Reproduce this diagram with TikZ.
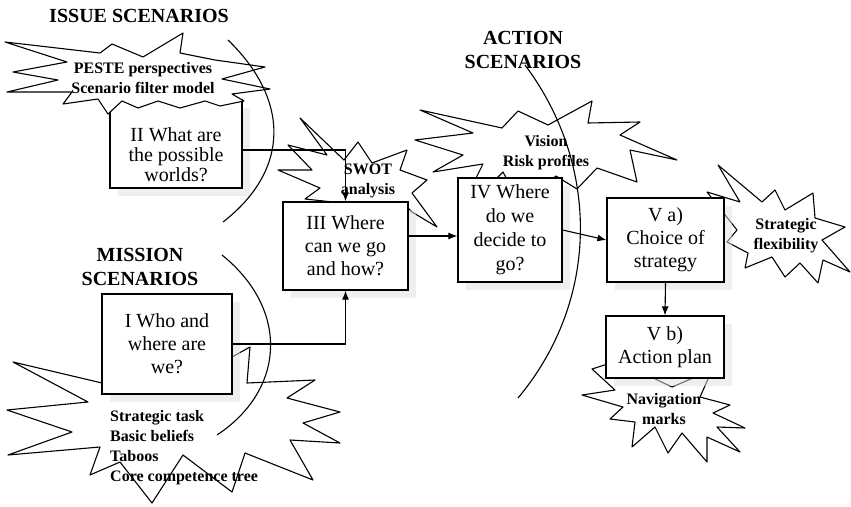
\documentclass[tikz,border=0pt]{standalone}
\usepackage{fontspec}
\setmainfont{Liberation Serif}
\usetikzlibrary{arrows.meta,shadows}

\tikzset{
  stage/.style={draw, line width=1.2pt, fill=white, inner sep=0pt, align=center,
    font=\fontsize{20}{23}\selectfont,
    drop shadow={shadow xshift=8pt, shadow yshift=-8pt, draw=none, fill=black!12, opacity=0.5}},
  burst/.style={draw, line width=1.1pt, fill=white, line join=round},
  bursttext/.style={align=center, inner sep=0pt, font=\bfseries\fontsize{16}{20}\selectfont},
  heading/.style={align=center, inner sep=0pt, font=\bfseries\fontsize{20}{24}\selectfont},
  arc/.style={line width=1.1pt}
}

\begin{document}
\begin{tikzpicture}[x=1pt, y=-1pt, >={Latex[length=9pt,width=7pt]}]
\useasboundingbox (0,0) rectangle (851,506);

% bursts behind the boxes
\draw[burst] (13,362) -- (102,383) -- (232,357) -- (250,347) -- (247,383) -- (315,380)
  -- (287,398) -- (340,412) -- (303,423) -- (340,443) -- (290,440) -- (313,480)
  -- (245,453) -- (232,492) -- (183,455) -- (152,503) -- (120,462) -- (90,475)
  -- (100,447) -- (8,455) -- (72,432) -- (7,410) -- (88,402) -- cycle;
\draw[burst] (300,118) -- (327,155) -- (288,145) -- (312,170) -- (278,170) -- (320,188)
  -- (305,199) -- (333,202) -- (405,205) -- (412,212) -- (437,227) -- (412,193)
  -- (427,180) -- (400,170) -- (407,150) -- (372,163) -- (358,142) -- (344,160) -- cycle;
\draw[burst] (420,110) -- (502,128) -- (518,111) -- (548,125) -- (592,101) -- (588,123)
  -- (640,122) -- (620,135) -- (677,160) -- (630,150) -- (637,182) -- (597,168)
  -- (577,189) -- (556,176) -- (545,185) -- (510,185) -- (503,172) -- (490,185)
  -- (475,180) -- (483,164) -- (433,172) -- (463,155) -- (415,140) -- (473,133) -- cycle;
\draw[burst] (718,165) -- (762,202) -- (775,190) -- (785,210) -- (813,193) -- (815,218)
  -- (845,227) -- (822,240) -- (850,272) -- (823,260) -- (818,283) -- (800,263)
  -- (785,277) -- (772,257) -- (745,268) -- (748,253) -- (727,242) -- (737,230)
  -- (707,192) -- (740,202) -- cycle;
\draw[burst] (592,369) -- (615,390) -- (582,395) -- (623,407) -- (610,419) -- (635,422)
  -- (632,447) -- (655,427) -- (668,453) -- (682,433) -- (707,462) -- (707,437)
  -- (740,452) -- (717,427) -- (745,428) -- (713,413) -- (730,405) -- (700,397)
  -- (712,370) -- (672,387) -- (647,375) -- (620,360) -- cycle;

% the five stages
\node[stage, minimum width=130pt, minimum height=100pt] (bi) at (167,344) {I Who and\\where are\\we?};
\node[stage, minimum width=125pt, minimum height=88pt] (biii) at (345.5,246) {III Where\\can we go\\and how?};
\node[stage, minimum width=104pt, minimum height=104pt, font=\fontsize{20}{24}\selectfont] (biv) at (510,230) {IV Where\\do we\\decide to\\go?};
\node[stage, minimum width=117pt, minimum height=84pt] (bva) at (665.5,240) {V a)\\Choice of\\strategy};
\node[stage, minimum width=118pt, minimum height=62pt] (bvb) at (665,347) {V b)\\Action plan};
\node[stage, minimum width=132pt, minimum height=88pt, font=\fontsize{20}{20}\selectfont] (bii) at (176,144) {{}\\[16pt]II What are\\the possible\\worlds?};

% issue burst lies over box II
\draw[burst] (5,42) -- (100,53) -- (112,44) -- (143,57) -- (183,33) -- (180,53)
  -- (215,60) -- (265,67) -- (222,79) -- (270,89) -- (232,94) -- (244,101)
  -- (220,106) -- (205,101) -- (180,108) -- (158,101) -- (138,108) -- (122,101)
  -- (108,114) -- (98,99) -- (63,104) -- (72,92) -- (7,92) -- (58,80) -- (13,72)
  -- (67,62) -- cycle;

% headings
\node[heading] (issue) at (139,16) {ISSUE SCENARIOS};
\node[heading] (action) at (523,50) {ACTION\\SCENARIOS};
\node[heading] (mission) at (140,267) {MISSION\\SCENARIOS};

% burst texts
\node[bursttext] (peste) at (143,78) {PESTE perspectives\\Scenario filter model};
\node[bursttext] (swot) at (368,181) {SWOT\\analysis};
\node[bursttext] (vision) at (546,153) {Vision\\Risk profiles};
\node[bursttext] (flex) at (786,236) {Strategic\\flexibility};
\node[bursttext] (navi) at (664,409) {Navigation\\marks};
\node[bursttext, anchor=west, align=left] (mtext) at (110,448) {Strategic task\\Basic beliefs\\Taboos\\Core competence tree};

% scenario borders
\draw[arc] (228,40) .. controls (290,100) and (290,170) .. (223,222);
\draw[arc] (222,255) .. controls (290,310) and (285,390) .. (217,435);
\draw[arc] (525,65) .. controls (600,165) and (600,300) .. (518,398);

% arrows
\draw[->, line width=1.2pt] ([yshift=-6pt]bii.east) -| (biii.north);
\draw[->, line width=1.2pt] (bi.east) -| (biii.south);
\coordinate (c3) at ([yshift=10pt]biii.east);
\draw[->, line width=1.1pt] (c3) -- (c3 -| biv.west);
\draw[->, line width=1.1pt] (biv.east) -- (bva.west);
\draw[->, line width=1.1pt] (bva.south) -- (bvb.north);
\end{tikzpicture}
\end{document}
